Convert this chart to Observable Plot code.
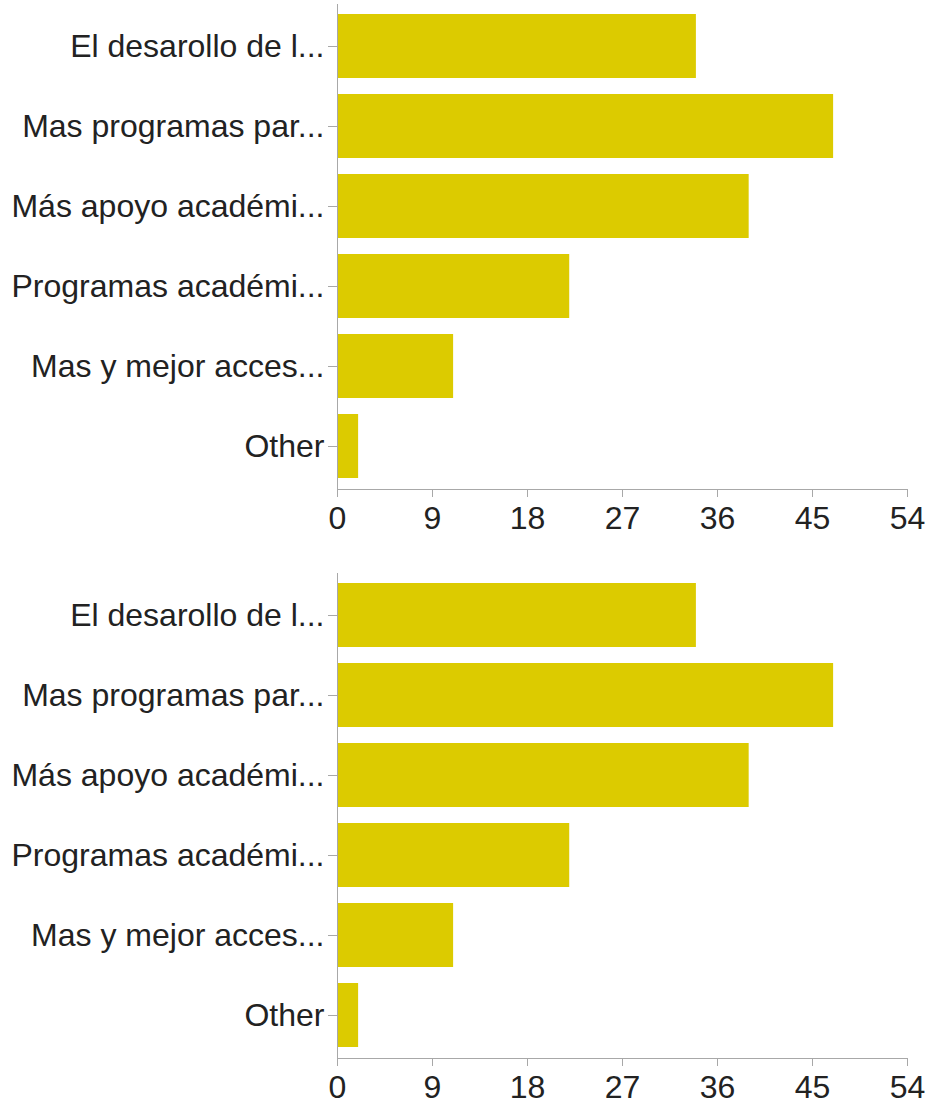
<!DOCTYPE html>
<html>
<head>
<meta charset="utf-8">
<script src="https://cdn.jsdelivr.net/npm/d3@7"></script>
<script src="https://cdn.jsdelivr.net/npm/@observablehq/plot@0.6"></script>
<style>
  html, body { margin: 0; padding: 0; background: #fff; }
  #chart svg { display: block; }
</style>
</head>
<body>
<div id="chart"></div>
<script>
const categories = [
  "El desarollo de l...",
  "Mas programas par...",
  "Más apoyo académi...",
  "Programas académi...",
  "Mas y mejor acces...",
  "Other"
];
const values = [34, 47, 39, 22, 11, 2];
const xTicks = [0, 9, 18, 27, 36, 45, 54];

const data = categories.map((c, i) => ({category: c, value: values[i]}));

function makeChart(height) {
  return Plot.plot({
    width: 929,
    height,
    marginLeft: 337,
    marginRight: 22,
    marginTop: 4,
    marginBottom: height - 489,
    style: {fontFamily: "'Liberation Sans', Arial, Helvetica, sans-serif", fontSize: "32px", color: "#222", background: "#fff"},
    x: {domain: [0, 54]},
    y: {domain: categories, paddingInner: 0.2, paddingOuter: 0.1, insetTop: 2, insetBottom: 3},
    marks: [
      Plot.barX(data, {x: "value", y: "category", fill: "#dccb00"}),
      Plot.frame({anchor: "bottom", stroke: "#a8a8a8"}),
      Plot.ruleX([0], {stroke: "#a8a8a8"}),
      Plot.axisX({ticks: xTicks, tickSize: 8, tickPadding: 9, stroke: "#a8a8a8", fill: "#222", label: null, fontSize: 32}),
      Plot.axisY({tickSize: 9, tickPadding: 4, stroke: "#a8a8a8", fill: "#222", label: null, fontSize: 32})
    ]
  });
}

const root = document.getElementById("chart");
root.appendChild(makeChart(569));
root.appendChild(makeChart(540));
</script>
</body>
</html>
